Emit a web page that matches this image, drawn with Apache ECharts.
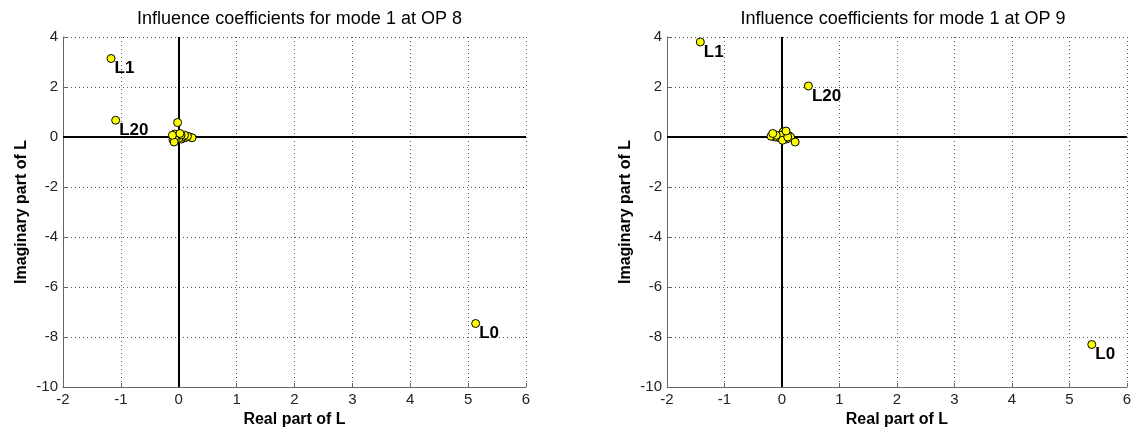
<!DOCTYPE html>
<html><head><meta charset="utf-8">
<script src="https://cdn.jsdelivr.net/npm/echarts@6/dist/echarts.min.js"></script>
<style>html,body{margin:0;padding:0;background:#fff}#c{width:1134px;height:433px}</style>
</head><body><div id="c"></div>
<script>
const titles = ['Influence coefficients for mode 1 at OP 8', 'Influence coefficients for mode 1 at OP 9'];
const xName = 'Real part of L';
const yName = 'Imaginary part of L';
const xTicks = [-2, -1, 0, 1, 2, 3, 4, 5, 6];
const yTicks = [-10, -8, -6, -4, -2, 0, 2, 4];

const op8Labels = ['L0', 'L1', 'L20', '', '', '', '', '', '', '', '', '', '', '', '', '', '', '', '', '', ''];
const op8Real = [5.13, -1.17, -1.09, -0.02, -0.11, -0.08, -0.06, 0.02, 0.04, 0.10, 0.15, 0.23, -0.10, 0.00, 0.07, -0.04, 0.12, -0.07, 0.05, 0.18, -0.01];
const op8Imag = [-7.46, 3.14, 0.67, 0.58, 0.07, -0.20, -0.12, 0.14, 0.08, 0.07, 0.03, -0.03, -0.10, -0.06, 0.00, 0.03, -0.02, 0.12, -0.08, 0.01, 0.10];

const op9Labels = ['L0', 'L1', 'L20', '', '', '', '', '', '', '', '', '', '', '', '', '', '', '', '', '', ''];
const op9Real = [5.39, -1.42, 0.46, -0.16, -0.10, 0.07, 0.10, 0.23, 0.01, -0.03, -0.19, 0.15, -0.12, 0.04, 0.05, -0.06, 0.12, -0.14, 0.00, 0.08, 0.02];
const op9Imag = [-8.30, 3.80, 2.04, 0.14, 0.07, 0.24, 0.00, -0.20, -0.13, 0.07, 0.03, 0.00, 0.00, 0.12, -0.05, -0.02, 0.05, 0.10, 0.02, -0.08, 0.20];

const panels = [
  {labels: op8Labels, re: op8Real, im: op8Imag, left: 63, width: 463},
  {labels: op9Labels, re: op9Real, im: op9Imag, left: 667, width: 462}
];

const font = 'Liberation Sans, Arial, Helvetica, sans-serif';
const option = {
  animation: false,
  backgroundColor: '#fff',
  title: [], grid: [], xAxis: [], yAxis: [], series: []
};
panels.forEach((p, i) => {
  option.title.push({
    text: titles[i], left: p.left + p.width / 2, top: 5, textAlign: 'center',
    textStyle: {fontFamily: font, fontSize: 18, fontWeight: 'normal', color: '#000'}
  });
  option.grid.push({left: p.left, width: p.width, top: 37, height: 350});
  option.xAxis.push({
    type: 'value', gridIndex: i, min: xTicks[0], max: xTicks[xTicks.length - 1], interval: 1,
    name: xName, nameLocation: 'middle', nameGap: 22,
    nameTextStyle: {fontFamily: font, fontSize: 16, fontWeight: 'bold', color: '#000'},
    axisLine: {show: true, onZero: false, lineStyle: {color: '#666', width: 1}},
    axisTick: {show: true, inside: true, length: 4, lineStyle: {color: '#666'}},
    axisLabel: {fontFamily: font, fontSize: 15, color: '#222', margin: 5},
    splitLine: {show: true, lineStyle: {color: '#555', type: [1, 3], width: 1}}
  });
  option.yAxis.push({
    type: 'value', gridIndex: i, min: yTicks[0], max: yTicks[yTicks.length - 1], interval: 2,
    name: yName, nameLocation: 'middle', nameGap: 33,
    nameTextStyle: {fontFamily: font, fontSize: 16, fontWeight: 'bold', color: '#000'},
    axisLine: {show: true, onZero: false, lineStyle: {color: '#666', width: 1}},
    axisTick: {show: true, inside: true, length: 4, lineStyle: {color: '#666'}},
    axisLabel: {fontFamily: font, fontSize: 15, color: '#222', margin: 5},
    splitLine: {show: true, lineStyle: {color: '#555', type: [1, 3], width: 1}}
  });
  option.series.push({
    type: 'scatter', xAxisIndex: i, yAxisIndex: i, symbol: 'circle', symbolSize: 8,
    itemStyle: {color: '#ffff00', borderColor: '#000', borderWidth: 1, opacity: 1},
    label: {
      show: true, position: [8, 6], formatter: d => d.name,
      fontFamily: font, fontSize: 17, fontWeight: 'bold', color: '#000'
    },
    markLine: {
      silent: true, symbol: 'none', z: 1, label: {show: false},
      lineStyle: {color: '#000', width: 2, type: 'solid'},
      data: [{xAxis: 0}, {yAxis: 0}]
    },
    data: p.re.map((v, k) => ({name: p.labels[k], value: [v, p.im[k]]})).reverse()
  });
});
const chart = echarts.init(document.getElementById('c'), null, {renderer: 'canvas'});
chart.setOption(option);
</script></body></html>
